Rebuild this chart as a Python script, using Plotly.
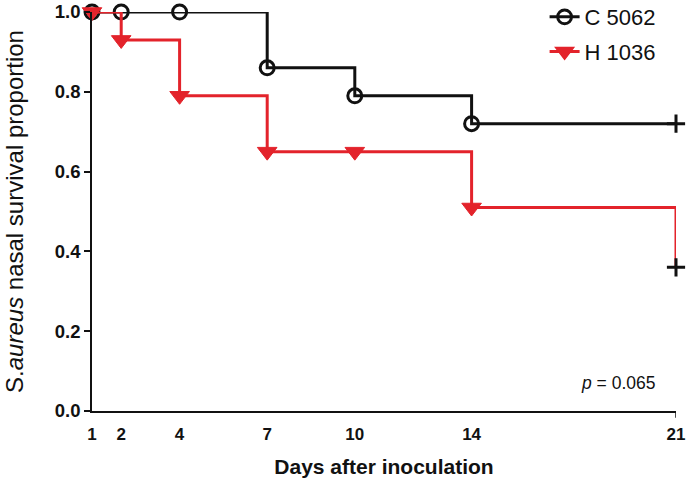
import plotly.graph_objects as go

days = [1, 2, 4, 7, 10, 14, 21]
c5062 = [1.0, 1.0, 1.0, 0.86, 0.79, 0.72, 0.72]
h1036 = [1.0, 0.93, 0.79, 0.65, 0.65, 0.51, 0.36]
x_ticks = [1, 2, 4, 7, 10, 14, 21]
y_ticks = [0.0, 0.2, 0.4, 0.6, 0.8, 1.0]
names = ["C 5062", "H 1036"]

BLACK = "#111111"
RED = "#e3232b"
FONT = "Arial, 'Liberation Sans', sans-serif"

fig = go.Figure()

n = len(days)
# C 5062
fig.add_trace(go.Scatter(
    x=days, y=c5062, name=names[0], mode="lines+markers", legendgroup="a",
    line=dict(shape="hv", color=BLACK, width=3),
    marker=dict(symbol=["circle-open"] * (n - 1) + ["cross-thin"],
                size=[14] * (n - 1) + [13], opacity=1,
                color=BLACK, line=dict(color=BLACK, width=3)),
    cliponaxis=False,
))
# H 1036
fig.add_trace(go.Scatter(
    x=days, y=h1036, name=names[1], mode="lines+markers", legendgroup="b",
    line=dict(shape="hv", color=RED, width=3),
    marker=dict(symbol=["triangle-down"] * (n - 1) + ["cross-thin"],
                size=[17] * (n - 1) + [13], opacity=1,
                color=[RED] * (n - 1) + [BLACK],
                line=dict(color=[RED] * (n - 1) + [BLACK], width=[1] * (n - 1) + [3])),
    cliponaxis=False,
))

fig.update_layout(
    width=688, height=482,
    margin=dict(l=92, r=12, t=12, b=71, autoexpand=False),
    plot_bgcolor="white", paper_bgcolor="white",
    font=dict(family=FONT, color=BLACK),
    showlegend=True,
    legend=dict(x=0.775, y=1.04, xanchor="left", yanchor="top",
                font=dict(size=22, family=FONT, color=BLACK),
                traceorder="grouped", tracegroupgap=3,
                bgcolor="rgba(0,0,0,0)"),
    xaxis=dict(range=[1, 21], tickvals=x_ticks, ticktext=[str(v) for v in x_ticks],
               showgrid=False, zeroline=False, showline=True, linecolor=BLACK, linewidth=1.5,
               ticks="outside", ticklen=7, tickcolor="rgba(0,0,0,0)", automargin=False,
               tickfont=dict(size=17, family=FONT, weight="bold", color=BLACK),
               title=dict(text="Days after inoculation", standoff=16,
                          font=dict(size=21, family=FONT, weight="bold", color=BLACK))),
    yaxis=dict(range=[0, 1], tickvals=y_ticks, ticktext=["%.1f" % v for v in y_ticks],
               showgrid=False, zeroline=False, showline=True, linecolor=BLACK, linewidth=1.5,
               ticks="outside", ticklen=6, tickwidth=1.5, tickcolor=BLACK, automargin=False,
               tickfont=dict(size=18.5, family=FONT, weight="bold", color=BLACK),
               title=dict(text="S.<i>aureus</i> nasal survival proportion", standoff=24,
                          font=dict(size=24, family=FONT, color=BLACK))),
    annotations=[dict(text="<i>p</i> = 0.065", xref="paper", yref="paper",
                      x=0.90, y=0.07, xanchor="center", yanchor="middle", showarrow=False,
                      font=dict(size=17.5, family=FONT, color=BLACK))],
    shapes=[dict(type="line", xref="x", yref="paper", x0=21, x1=21, y0=0, y1=-0.017,
                 line=dict(color=BLACK, width=1.5))],
)

fig.write_html("out.html", config={"displayModeBar": False},
               post_script="document.body.style.margin='0';document.body.style.padding='0';")
